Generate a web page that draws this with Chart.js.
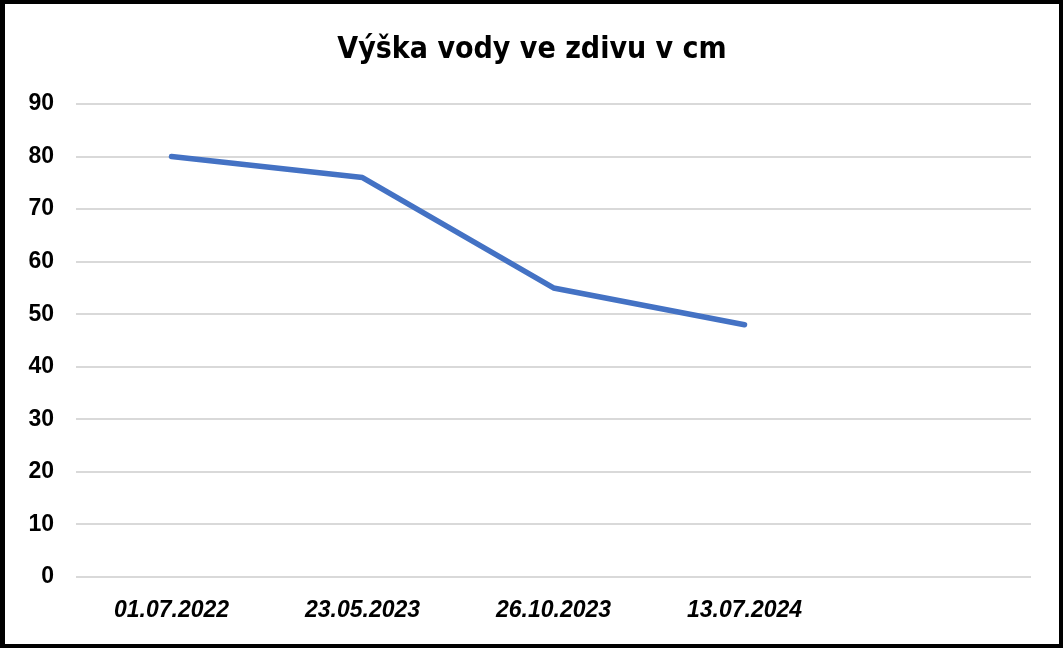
<!DOCTYPE html>
<html>
<head>
<meta charset="utf-8">
<script src="https://cdn.jsdelivr.net/npm/chart.js@4"></script>
<style>
  html, body { margin: 0; padding: 0; background: #fff; }
  #box {
    position: absolute; left: 0; top: 0;
    width: 1063px; height: 648px;
    box-sizing: border-box;
    border: 4px solid #000;
    border-left-width: 5px;
    background: #fff;
  }
  #box canvas { display: block; }
</style>
</head>
<body>
<div id="box"><canvas id="lineChart" width="1054" height="640"></canvas></div>
<script>
// data
var dates = ['01.07.2022', '23.05.2023', '26.10.2023', '13.07.2024', ''];
var heights = [80, 76, 55, 48, null];
var yTicks = [0, 10, 20, 30, 40, 50, 60, 70, 80, 90];

var tickFont = { family: '"Liberation Sans", Arial, sans-serif', size: 23, weight: 'bold' };

var lineConfig = {
    type: 'line',
    data: {
        labels: dates,
        datasets: [{
            label: 'Výška vody',
            data: heights,
            borderColor: '#4472C4',
            backgroundColor: '#4472C4',
            borderWidth: 5.5,
            borderCapStyle: 'round',
            borderJoinStyle: 'round',
            pointRadius: 0,
            tension: 0,
            yAxisID: 'y',
        }]
    },
    options: {
        responsive: false,
        animation: false,
        layout: { padding: 0 },
        plugins: {
            legend: { display: false },
            tooltip: { enabled: false },
            title: {
                display: true,
                text: 'Výška vody ve zdivu v cm',
                color: '#000',
                font: { family: '"DejaVu Sans Condensed", "Liberation Sans", sans-serif', size: 30, weight: 'bold' },
                padding: { top: 28, bottom: 36 },
            },
        },
        scales: {
            x: {
                offset: true,
                grid: { display: false, drawTicks: false },
                border: { display: false },
                ticks: {
                    color: '#000',
                    padding: 20,
                    maxRotation: 0,
                    autoSkip: false,
                    font: Object.assign({}, tickFont, { style: 'italic' }),
                },
                afterFit: function (s) { s.height = 67; },
            },
            y: {
                min: 0,
                max: 90,
                afterBuildTicks: function (s) { s.ticks = yTicks.map(function (v) { return { value: v }; }); },
                grid: { color: '#d9d9d9', lineWidth: 2, drawTicks: false },
                border: { display: false },
                ticks: {
                    color: '#000',
                    padding: 22,
                    font: tickFont,
                },
                afterFit: function (s) { s.width = 71; },
            },
            // empty right-hand margin, keeps the title centred on the whole canvas
            yRight: {
                position: 'right',
                min: 0,
                max: 90,
                grid: { display: false, drawTicks: false },
                border: { display: false },
                ticks: { display: false },
                afterFit: function (s) { s.width = 28; },
            }
        }
    },
};

var lineChart = new Chart(document.getElementById('lineChart'), lineConfig);
</script>
</body>
</html>
